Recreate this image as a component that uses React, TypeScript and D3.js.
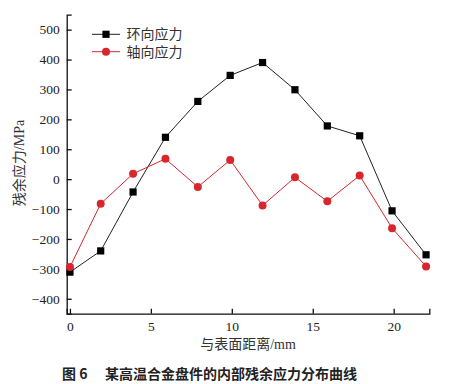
import { axisBottom, axisLeft, line, scaleLinear, select } from 'd3'
import { useEffect, useRef } from 'react'

// distance from surface (mm)
const distances = [0, 1.9, 3.9, 5.9, 7.9, 9.9, 11.9, 13.9, 15.9, 17.9, 19.9, 22]
const hoopStress = [-311, -240, -43, 140, 260, 347, 390, 299, 178, 145, -106, -253]
const axialStress = [-294, -82, 18, 68, -26, 64, -88, 6, -74, 12, -164, -292]
const seriesNames = ['环向应力', '轴向应力']
const xTicks = [0, 5, 10, 15, 20]
const yTicks = [-400, -300, -200, -100, 0, 100, 200, 300, 400, 500]

const W = 459
const H = 384
const margin = { top: 14.7, right: 29.7, bottom: 70.3, left: 66.7 }
const numFont = '"Liberation Serif", "DejaVu Serif", serif'
const textFont = '"Liberation Serif", "Noto Sans CJK SC", serif'
const black = '#111'
const red = '#d7262d'

export default function App() {
  const svgRef = useRef<SVGSVGElement | null>(null)

  useEffect(() => {
    if (!svgRef.current) return
    const svg = select(svgRef.current)
    svg.selectAll('*').remove()

    const x = scaleLinear().domain([-0.2, 22.2]).range([margin.left, W - margin.right])
    const y = scaleLinear().domain([-450, 550]).range([H - margin.bottom, margin.top])

    const xAxis = axisBottom(x).tickValues(xTicks).tickSize(-5).tickSizeOuter(-5).tickPadding(8)
    const yAxis = axisLeft(y).tickValues(yTicks).tickSize(-5).tickSizeOuter(-5).tickPadding(7)

    const gx = svg.append('g').attr('transform', `translate(0,${H - margin.bottom})`).call(xAxis)
    const gy = svg.append('g').attr('transform', `translate(${margin.left},0)`).call(yAxis)
    for (const g of [gx, gy]) {
      g.selectAll('path, line').attr('stroke', black).attr('stroke-width', 1.3)
      g.selectAll('text')
        .attr('fill', '#222')
        .style('font-family', numFont)
        .style('font-size', '13.5px')
    }

    const lineGen = line<number>()
      .x((_, i) => x(distances[i]))
      .y(d => y(d))

    // hoop stress (squares)
    svg.append('path')
      .datum(hoopStress)
      .attr('d', lineGen)
      .attr('fill', 'none')
      .attr('stroke', '#222')
      .attr('stroke-width', 1)
    svg.append('g')
      .selectAll('rect')
      .data(hoopStress)
      .join('rect')
      .attr('x', (_, i) => x(distances[i]) - 3.6)
      .attr('y', d => y(d) - 3.6)
      .attr('width', 7.2)
      .attr('height', 7.2)
      .attr('fill', '#000')

    // axial stress (circles)
    svg.append('path')
      .datum(axialStress)
      .attr('d', lineGen)
      .attr('fill', 'none')
      .attr('stroke', red)
      .attr('stroke-width', 1)
    svg.append('g')
      .selectAll('circle')
      .data(axialStress)
      .join('circle')
      .attr('cx', (_, i) => x(distances[i]))
      .attr('cy', d => y(d))
      .attr('r', 4)
      .attr('fill', red)

    // legend
    const legend = svg.append('g')
    const rows = [
      { name: seriesNames[0], color: '#222', marker: 'rect', ly: 34.3 },
      { name: seriesNames[1], color: red, marker: 'circle', ly: 51.7 },
    ]
    rows.forEach(r => {
      legend.append('line')
        .attr('x1', 92).attr('x2', 120).attr('y1', r.ly).attr('y2', r.ly)
        .attr('stroke', r.color).attr('stroke-width', 1)
      if (r.marker === 'rect') {
        legend.append('rect')
          .attr('x', 106 - 3.6).attr('y', r.ly - 3.6)
          .attr('width', 7.2).attr('height', 7.2).attr('fill', '#000')
      } else {
        legend.append('circle').attr('cx', 106).attr('cy', r.ly).attr('r', 4).attr('fill', red)
      }
      legend.append('text')
        .attr('x', 126.5).attr('y', r.ly + 5)
        .attr('fill', '#333')
        .style('font-family', textFont)
        .style('font-size', '14px')
        .text(r.name)
    })

    // axis titles
    svg.append('text')
      .attr('x', (margin.left + W - margin.right) / 2)
      .attr('y', 349)
      .attr('text-anchor', 'middle')
      .attr('fill', '#333')
      .style('font-family', textFont)
      .style('font-size', '14px')
      .text('与表面距离/mm')
    svg.append('text')
      .attr('transform', 'translate(24,163) rotate(-90)')
      .attr('text-anchor', 'middle')
      .attr('fill', '#333')
      .style('font-family', textFont)
      .style('font-size', '14px')
      .text('残余应力/MPa')

    // caption
    const cap = svg.append('text')
      .attr('y', 379)
      .attr('fill', '#222')
      .style('font-family', '"Noto Sans CJK SC", sans-serif')
      .style('font-size', '14px')
      .style('font-weight', 'bold')
    cap.append('tspan').attr('x', 62).text('图 6')
    cap.append('tspan').attr('x', 105).text('某高温合金盘件的内部残余应力分布曲线')
  }, [])

  return (
    <svg
      ref={svgRef}
      width={W}
      height={H}
      style={{ position: 'absolute', left: 0, top: 0, background: '#fff' }}
    />
  )
}
